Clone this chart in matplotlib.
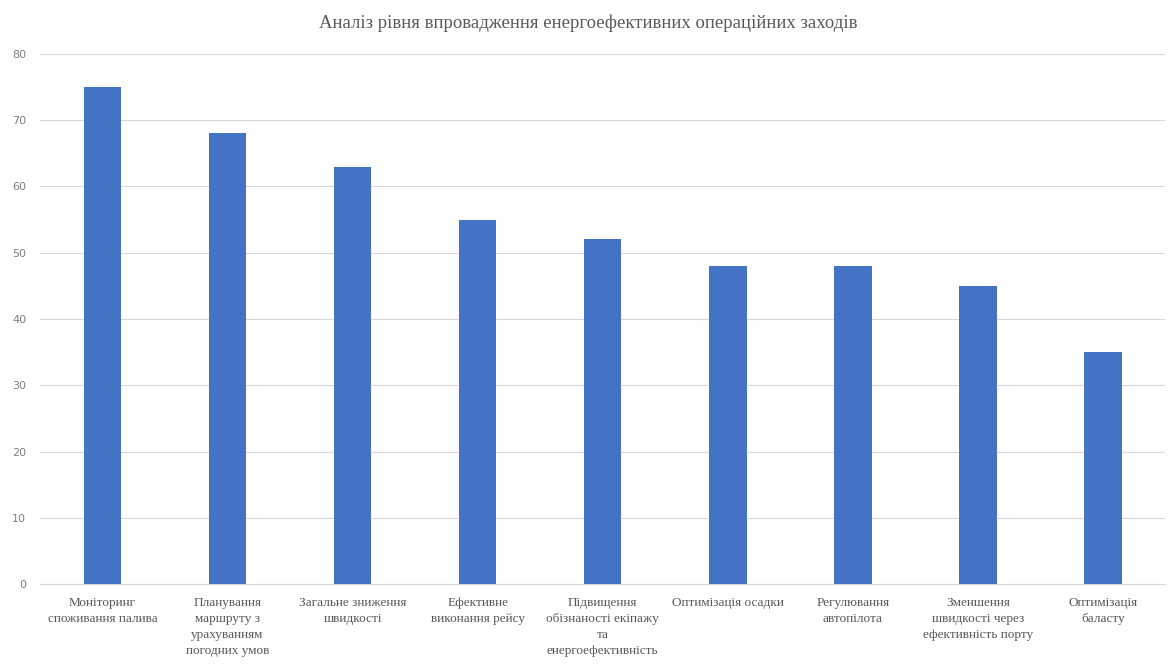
import numpy as np
import matplotlib.pyplot as plt

categories = [
    "Моніторинг\nспоживання палива",
    "Планування\nмаршруту з\nурахуванням\nпогодних умов",
    "Загальне зниження\nшвидкості",
    "Ефективне\nвиконання рейсу",
    "Підвищення\nобізнаності екіпажу\nта\nенергоефективність",
    "Оптимізація осадки",
    "Регулювання\nавтопілота",
    "Зменшення\nшвидкості через\nефективність порту",
    "Оптимізація\nбаласту",
]
values = [75, 68, 63, 55, 52, 48, 48, 45, 35]
title = "Аналіз рівня впровадження енергоефективних операційних заходів"

fig = plt.figure(figsize=(11.76, 6.66), dpi=100)
ax = fig.add_axes([0.034, 0.123, 0.957, 0.796])

x = np.arange(len(categories))
ax.bar(x, values, width=0.3, color="#4472C4", zorder=3)

ax.set_xlim(-0.5, len(categories) - 0.5)
ax.set_ylim(0, 80)
ax.set_yticks(range(0, 81, 10))
ax.grid(axis="y", color="#D9D9D9", linewidth=0.8, zorder=0)
for s in ["top", "right", "left"]:
    ax.spines[s].set_visible(False)
ax.spines["bottom"].set_color("#D9D9D9")

ax.set_xticks(x)
ax.set_xticklabels(categories, family="Liberation Serif", fontsize=9.5,
                   color="#595959", linespacing=1.45)
ax.tick_params(axis="x", length=0, pad=9)
ax.tick_params(axis="y", length=0, labelsize=8, labelcolor="#7F7F7F", pad=10)

fig.suptitle(title, family="Liberation Serif", fontsize=13.5, color="#595959",
             y=0.978)

fig.savefig("out.png", dpi=100)
